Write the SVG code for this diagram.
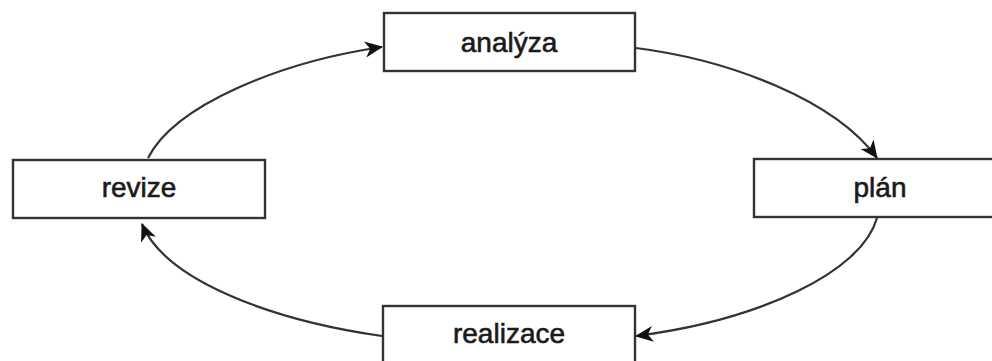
<svg xmlns="http://www.w3.org/2000/svg" width="992" height="361" viewBox="0 0 992 361">
<style>
.box{fill:#fff;stroke:#333;stroke-width:2.4}
.lbl{font-family:"Liberation Sans",Arial,sans-serif;font-size:28px;fill:#1a1a1a;stroke:#1a1a1a;stroke-width:0.6;text-anchor:middle}
.con{fill:none;stroke:#333;stroke-width:2.2}
</style>
<defs>
<marker id="ah" markerUnits="userSpaceOnUse" markerWidth="20" markerHeight="18" refX="17" refY="8" orient="auto">
<path d="M0,0 L18,8 L0,16 L5,8 z" fill="#111"/>
</marker>
</defs>
<rect width="992" height="361" fill="#fff"/>
<g id="connectors">
<path class="con" d="M148,158 C175,105 280,62 382,47" marker-end="url(#ah)"/>
<path class="con" d="M636,48 C730,60 835,100 877,158" marker-end="url(#ah)"/>
<path class="con" d="M877,218 C862,272 760,320 636,336" marker-end="url(#ah)"/>
<path class="con" d="M382,336 C270,320 165,280 142,224" marker-end="url(#ah)"/>
</g>
<g id="analyza">
<rect class="box" x="384" y="13" width="251" height="58"/>
<text class="lbl" x="509" y="52">analýza</text>
</g>
<g id="plan">
<rect class="box" x="754" y="159" width="252" height="58"/>
<text class="lbl" x="880" y="197">plán</text>
</g>
<g id="realizace">
<rect class="box" x="383" y="306" width="252" height="70"/>
<text class="lbl" x="509" y="343">realizace</text>
</g>
<g id="revize">
<rect class="box" x="13" y="160" width="252" height="58"/>
<text class="lbl" x="139" y="197">revize</text>
</g>
</svg>
